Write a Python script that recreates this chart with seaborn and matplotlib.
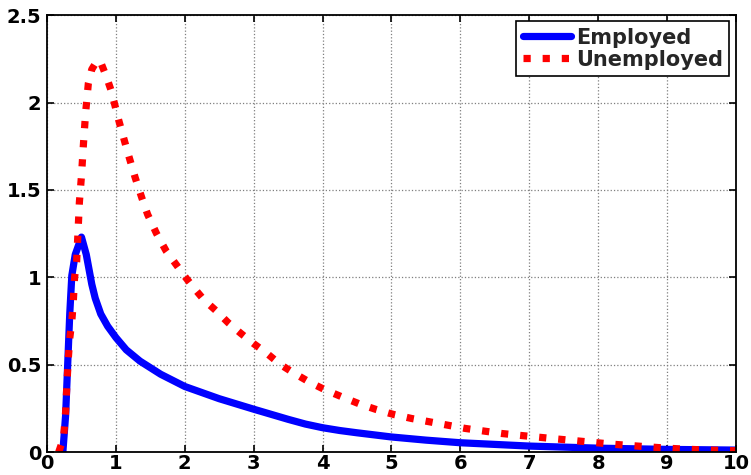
import matplotlib
matplotlib.use("Agg")
import matplotlib.pyplot as plt
import seaborn as sns
import numpy as np
import pandas as pd
from matplotlib.ticker import FuncFormatter

# ---- data ----
emp_x = [0.23, 0.27, 0.30, 0.33, 0.36, 0.41, 0.50, 0.57, 0.65, 0.70, 0.78, 0.88, 1.0,
         1.15, 1.35, 1.65, 2.0, 2.5, 3.0, 3.5, 3.75, 4.0, 4.25, 4.5, 5.0, 5.5, 6.0, 7.0,
         8.0, 9.0, 10.0]
emp_y = [0.0, 0.21, 0.50, 0.79, 1.01, 1.13, 1.23, 1.13, 0.96, 0.88, 0.79, 0.72, 0.655,
         0.585, 0.52, 0.445, 0.375, 0.305, 0.245, 0.187, 0.16, 0.139, 0.123, 0.11,
         0.086, 0.068, 0.053, 0.034, 0.022, 0.015, 0.011]

unemp_x = [0.17, 0.24, 0.27, 0.29, 0.31, 0.33, 0.36, 0.38, 0.40, 0.43, 0.45, 0.47, 0.50,
           0.53, 0.56, 0.60, 0.65, 0.72, 0.77, 0.86, 0.93, 1.04, 1.16, 1.28, 1.38, 1.46,
           1.59, 1.73, 1.88, 1.99, 2.12, 2.28, 2.45, 2.63, 2.81, 3.0, 3.19, 3.39, 3.59,
           3.81, 4.03, 4.29, 4.53, 4.78, 5.03, 5.29, 5.55, 5.81, 6.07, 6.34, 6.6, 6.87,
           7.13, 7.39, 7.66, 7.93, 8.2, 8.47, 8.74, 9.0, 9.27, 9.54, 9.8, 10.0]
unemp_y = [0.0, 0.08, 0.23, 0.40, 0.54, 0.65, 0.75, 0.85, 1.0, 1.09, 1.26, 1.43, 1.58,
           1.77, 1.94, 2.11, 2.19, 2.235, 2.24, 2.15, 2.07, 1.90, 1.73, 1.57, 1.45, 1.36,
           1.25, 1.15, 1.07, 1.01, 0.945, 0.87, 0.81, 0.74, 0.68, 0.62, 0.565, 0.50, 0.45,
           0.40, 0.357, 0.314, 0.276, 0.243, 0.215, 0.192, 0.173, 0.154, 0.135, 0.12,
           0.106, 0.095, 0.085, 0.075, 0.065, 0.055, 0.045, 0.037, 0.029, 0.022, 0.016,
           0.012, 0.009, 0.007]

series_names = ["Employed", "Unemployed"]
x_ticks = list(range(0, 11))
y_ticks = [0, 0.5, 1, 1.5, 2, 2.5]

sns.set_style("white")
plt.rcParams['font.family'] = ['DejaVu Sans']

fig = plt.figure(figsize=(7.51, 4.75), dpi=100)
ax = fig.add_axes([0.0626, 0.0484, 0.9174, 0.9196])

sns.lineplot(x=emp_x, y=emp_y, ax=ax, color="#0000ff", linewidth=5.2,
             estimator=None, sort=False, label=series_names[0])
sns.lineplot(x=unemp_x, y=unemp_y, ax=ax, color="#ff0000", linewidth=5.2,
             estimator=None, sort=False, label=series_names[1])
ax.lines[0].set_solid_joinstyle("round")
ax.lines[1].set_linestyle(":")
ax.lines[1].set_dash_capstyle("butt")

ax.set_xlim(0, 10)
ax.set_ylim(0, 2.5)
ax.set_xticks(x_ticks)
ax.set_yticks(y_ticks)
ax.yaxis.set_major_formatter(FuncFormatter(lambda v, p: f"{v:g}"))
ax.xaxis.set_major_formatter(FuncFormatter(lambda v, p: f"{v:g}"))

ax.grid(True, linestyle=":", color="#7f7f7f", linewidth=0.9)
for s in ax.spines.values():
    s.set_visible(True)
    s.set_color("black")
    s.set_linewidth(1.3)

ax.tick_params(direction="in", length=5, width=1.2, top=True, right=True,
               bottom=True, left=True, labelsize=14, colors="black")
ax.tick_params(axis="x", pad=1.5)
ax.tick_params(axis="y", pad=4)
for lab in ax.get_xticklabels() + ax.get_yticklabels():
    lab.set_fontweight("bold")

leg = ax.legend(loc="upper right", bbox_to_anchor=(0.99, 0.986), borderaxespad=0,
                frameon=True, fancybox=False, edgecolor="black", framealpha=1,
                prop={"weight": "bold", "size": 15}, handlelength=2.3,
                handletextpad=0.25, labelspacing=0.1, borderpad=0.3)
leg.get_frame().set_linewidth(1.2)

fig.savefig("out.png", dpi=100)
